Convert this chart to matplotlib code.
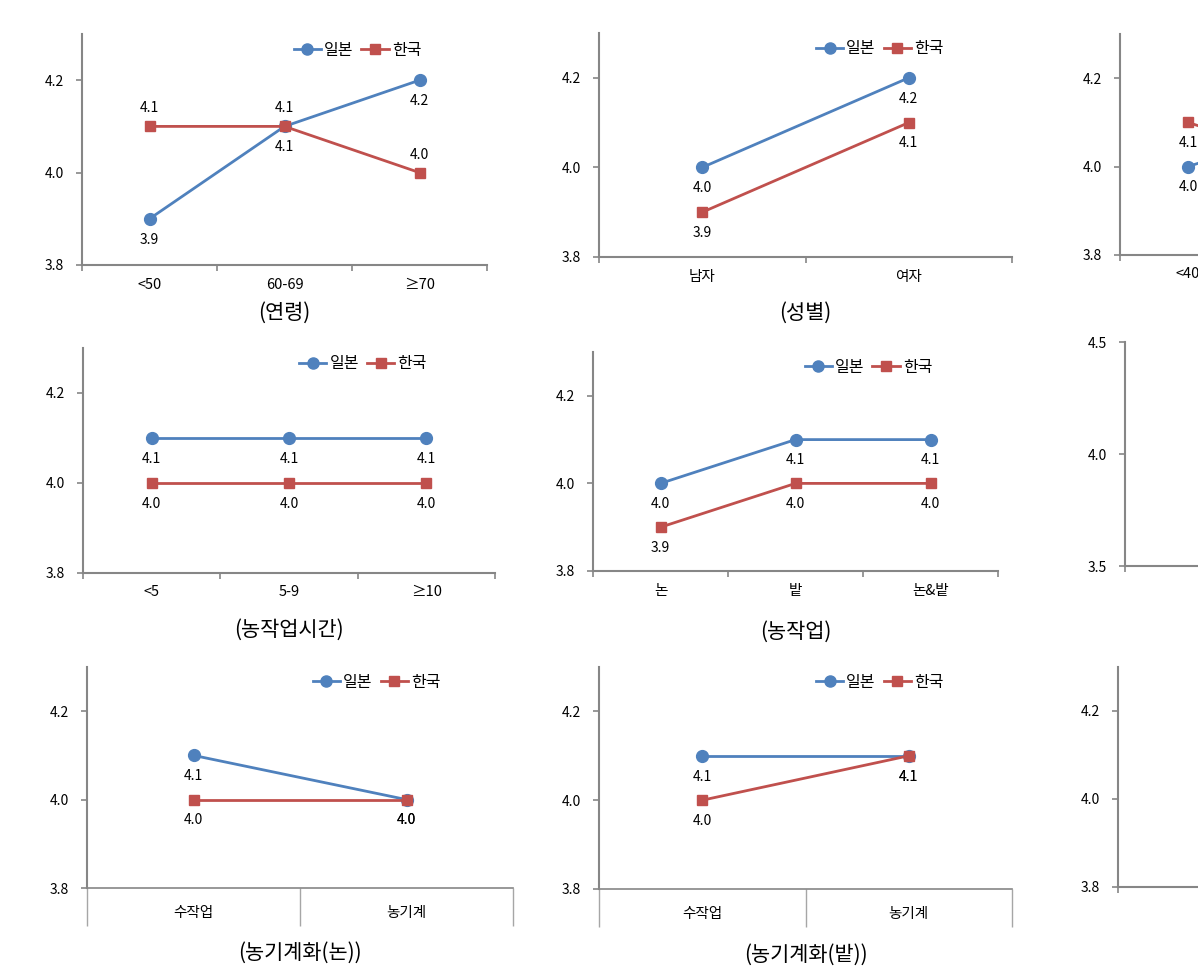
"""
Japan vs Korea mean scores by farmer group - 3x3 panel line charts (right column cropped)
"""
import matplotlib
matplotlib.use('Agg')
import matplotlib.pyplot as plt
from matplotlib.lines import Line2D
from matplotlib.transforms import offset_copy

plt.rcParams['font.family'] = ['Noto Sans CJK KR', 'DejaVu Sans']

# ---------------------------------------------------------------------------
# Data
# ---------------------------------------------------------------------------
age_cats = ['<50', '60-69', '≥70']
age_jp = [3.9, 4.1, 4.2]
age_kr = [4.1, 4.1, 4.0]

sex_cats = ['남자', '여자']
sex_jp = [4.0, 4.2]
sex_kr = [3.9, 4.1]

# third panel of row 1 is cut off at the right edge; only '<40' is visible
exp_cats = ['<40', '40-59', '≥60']
exp_jp = [4.0, 4.1, 4.1]
exp_kr = [4.1, 4.0, 4.0]

hours_cats = ['<5', '5-9', '≥10']
hours_jp = [4.1, 4.1, 4.1]
hours_kr = [4.0, 4.0, 4.0]

crop_cats = ['논', '밭', '논&밭']
crop_jp = [4.0, 4.1, 4.1]
crop_kr = [3.9, 4.0, 4.0]

mech_cats = ['수작업', '농기계']
mech_paddy_jp = [4.1, 4.0]
mech_paddy_kr = [4.0, 4.0]
mech_field_jp = [4.1, 4.1]
mech_field_kr = [4.0, 4.1]

series_names = ['일본', '한국']

# ---------------------------------------------------------------------------
# Style
# ---------------------------------------------------------------------------
BLUE = '#4F81BD'
RED = '#C0504D'
AXIS = '#868686'
W, H = 1198, 976

fig = plt.figure(figsize=(W / 100, H / 100), dpi=100)


def rect(x0, x1, ytop, ybot):
    return [x0 / W, 1 - ybot / H, (x1 - x0) / W, (ybot - ytop) / H]


def setup_axes(ax, ylim, yticks, n, long_ticks=False):
    for s in ['top', 'right']:
        ax.spines[s].set_visible(False)
    for s in ['left', 'bottom']:
        ax.spines[s].set_color(AXIS)
        ax.spines[s].set_linewidth(1.5)
    ax.set_ylim(*ylim)
    ax.set_yticks(yticks)
    ax.set_yticklabels([f'{t:.1f}' for t in yticks], fontsize=10)
    ax.tick_params(axis='y', length=4, width=1.2, color=AXIS, pad=9)
    ax.set_xlim(-0.5, n - 0.5)
    ax.set_xticks([i - 0.5 for i in range(n + 1)], minor=True)
    if long_ticks:
        ax.spines['bottom'].set_linewidth(1.2)
        ax.tick_params(axis='x', which='minor', length=27, width=1.0, color='#A6A6A6')
    else:
        ax.tick_params(axis='x', which='minor', length=4, width=1.2, color=AXIS)


def draw_panel(pos, cats, jp, kr, title, label_side=('below', 'below'),
               row3=False, xlabel_off=48):
    ax = fig.add_axes(rect(*pos))
    n = len(cats)
    setup_axes(ax, (3.8, 4.3), [3.8, 4.0, 4.2], n, long_ticks=row3)
    x = list(range(n))
    ax.plot(x, jp, color=BLUE, lw=2.0, marker='o', ms=8.5, clip_on=False, zorder=3)
    ax.plot(x, kr, color=RED, lw=2.0, marker='s', ms=7, clip_on=False, zorder=4)
    for vals, side in zip([jp, kr], label_side):
        dy = -15 if side == 'below' else 13
        for i, v in enumerate(vals):
            ax.annotate(f'{v:.1f}', (i, v), xytext=(0, dy), textcoords='offset points',
                        ha='center', va='center', fontsize=10)
    ax.set_xticks(x)
    ax.set_xticklabels(cats, fontsize=10.5)
    ax.tick_params(axis='x', which='major', length=0, pad=13 if row3 else 9)

    handles = [Line2D([], [], color=BLUE, lw=2.0, marker='o', ms=8),
               Line2D([], [], color=RED, lw=2.0, marker='s', ms=7)]
    ax.legend(handles, series_names, loc='center', bbox_to_anchor=(0.68, 0.93),
              ncol=2, frameon=False, fontsize=11.5, handlelength=1.7,
              handletextpad=0.2, columnspacing=0.5, borderaxespad=0)
    if title:
        tr = offset_copy(ax.transAxes, fig=fig, y=-xlabel_off, units='dots')
        ax.text(0.5, 0, title, transform=tr, ha='center', va='center', fontsize=15)
    return ax


# Row 1
draw_panel((82, 487, 34, 265), age_cats, age_jp, age_kr, '(연령)',
           label_side=('below', 'above'), xlabel_off=48)
draw_panel((599, 1012, 33, 257), sex_cats, sex_jp, sex_kr, '(성별)', xlabel_off=56)
draw_panel((1120, 1528, 34, 255), exp_cats, exp_jp, exp_kr, None)

# Row 2
draw_panel((83, 495, 348, 573), hours_cats, hours_jp, hours_kr, '(농작업시간)', xlabel_off=57)
draw_panel((593, 998, 352, 571), crop_cats, crop_jp, crop_kr, '(농작업)', xlabel_off=61)
ax6 = fig.add_axes(rect(1125, 1533, 342, 566))
setup_axes(ax6, (3.5, 4.5), [3.5, 4.0, 4.5], 3)
ax6.set_xticks([])

# Row 3
draw_panel((87, 513, 667, 888), mech_cats, mech_paddy_jp, mech_paddy_kr, '(농기계화(논))',
           row3=True, xlabel_off=65)
draw_panel((599, 1012, 667, 889), mech_cats, mech_field_jp, mech_field_kr, '(농기계화(밭))',
           row3=True, xlabel_off=66)
ax9 = fig.add_axes(rect(1118, 1531, 667, 887))
setup_axes(ax9, (3.8, 4.3), [3.8, 4.0, 4.2], 3)
ax9.set_xticks([])

fig.savefig('out.png', dpi=100, facecolor='white')
plt.close(fig)
